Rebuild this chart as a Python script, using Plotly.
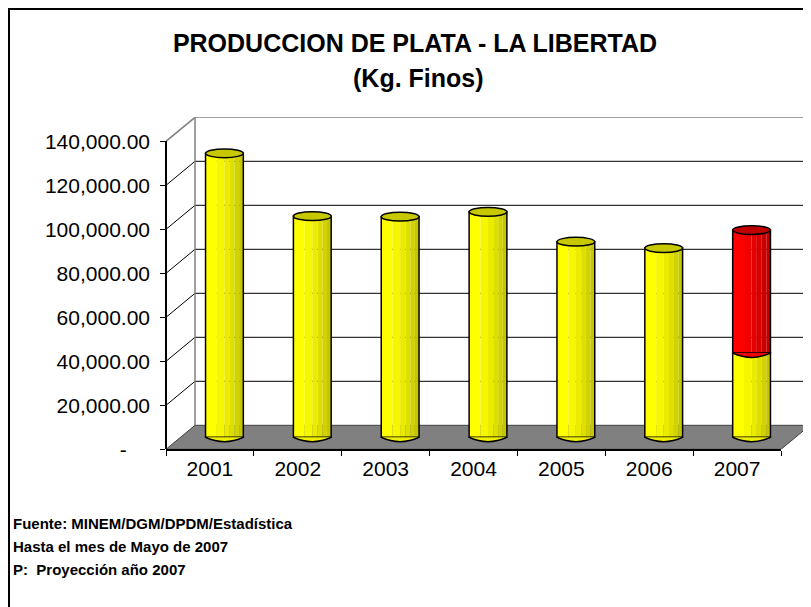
import plotly.graph_objects as go

# ---------------- data ----------------
YEARS = ["2001", "2002", "2003", "2004", "2005", "2006", "2007"]
PRODUCTION = [129100, 100500, 100300, 102500, 88900, 86000, 38300]   # yellow (real, 2007 until May)
PROJ_YEARS = ["2007"]
PROJECTION = [55900]                                                  # red (projection 2007)
Y_TICKS = [0, 20000, 40000, 60000, 80000, 100000, 120000, 140000]
Y_TICK_LABELS = ["-\u00a0\u00a0\u00a0\u00a0", "20,000.00", "40,000.00", "60,000.00",
                 "80,000.00", "100,000.00", "120,000.00", "140,000.00"]
TITLE = "PRODUCCION DE PLATA - LA LIBERTAD"
SUBTITLE = "(Kg. Finos)"
NOTES = ["Fuente: MINEM/DGM/DPDM/Estadística",
         "Hasta el mes de Mayo de 2007",
         "P:  Proyección año 2007"]

# ---------------- geometry (pixels) ----------------
W_PX, H_PX = 811, 607
PAGE_OFF = 8                          # page body margin
FRONT_L, FRONT_R = 166, 781          # front x-axis ends
FRONT_0, FRONT_TOP = 449.3, 141.3    # front y of 0 and of 140000
DEPTH_X, DEPTH_Y = 29, 24            # 3D depth offset
YMAX = Y_TICKS[-1]

ncat = len(YEARS)
cat_px = (FRONT_R - FRONT_L) / ncat
DXc = (DEPTH_X / 2) / cat_px                          # half-depth in category units
DYv = (DEPTH_Y / 2) / ((FRONT_0 - FRONT_TOP) / YMAX)  # half-depth in value units


def fx(p):
    return (p - PAGE_OFF) / W_PX


def fy(p):
    return 1 - (p - PAGE_OFF) / H_PX


BAR_W = 0.43
EH = 2000  # half height of the cylinder ellipses (value units)

YELLOWS = ["#FFFF00", "#F6F600", "#EBEB00", "#DEDE00", "#D2D200", "#C6C600"]
REDS = ["#FF0000", "#F20000", "#E40000", "#D60000", "#CA0000", "#BE0000"]
BANDS = [0.0, 0.3, 0.5, 0.64, 0.77, 0.89, 1.0]

fig = go.Figure()


def add_cylinder(xs, ys, bases, palette):
    for k, col in enumerate(palette):
        b0, b1 = BANDS[k], BANDS[k + 1]
        fig.add_trace(go.Bar(
            x=xs, y=ys, base=bases, width=BAR_W * (b1 - b0),
            offset=-BAR_W / 2 + BAR_W * b0,
            marker=dict(color=col, line=dict(width=0)),
            showlegend=False, hoverinfo="skip", xaxis="x", yaxis="y"))
    fig.add_trace(go.Bar(
        x=xs, y=ys, base=bases, width=BAR_W, offset=-BAR_W / 2,
        marker=dict(color="rgba(0,0,0,0)", line=dict(color="black", width=1.5)),
        showlegend=False, hoverinfo="skip", xaxis="x", yaxis="y"))


add_cylinder(YEARS, PRODUCTION, [0] * ncat, YELLOWS)
proj_base = [PRODUCTION[YEARS.index(y)] for y in PROJ_YEARS]
add_cylinder(PROJ_YEARS, PROJECTION, proj_base, REDS)

# invisible trace to carry the front axes
fig.add_trace(go.Scatter(x=YEARS, y=[None] * ncat, xaxis="x2", yaxis="y2",
                         mode="markers", showlegend=False, hoverinfo="skip"))

shapes = []
xl_f, xl_b = -0.5 - DXc, -0.5 + DXc
xr_f, xr_b = ncat - 0.5 - DXc, ncat - 0.5 + DXc

# floor
shapes.append(dict(type="path", xref="x", yref="y", layer="below",
                   path=f"M {xl_f},{-DYv} L {xr_f},{-DYv} L {xr_b},{DYv} L {xl_b},{DYv} Z",
                   fillcolor="#808080", line=dict(color="#404040", width=1)))
# back wall gridlines and side-wall diagonals
for v in Y_TICKS[1:-1]:
    shapes.append(dict(type="line", xref="x", yref="y", layer="below",
                       x0=xl_b, x1=xr_b, y0=v + DYv, y1=v + DYv,
                       line=dict(color="black", width=1)))
    shapes.append(dict(type="line", xref="x", yref="y", layer="below",
                       x0=xl_f, x1=xl_b, y0=v - DYv, y1=v + DYv,
                       line=dict(color="black", width=1)))
# back wall outline (gray)
for (x0, y0, x1, y1) in [(xl_b, DYv, xl_b, YMAX + DYv),
                         (xl_b, YMAX + DYv, xr_b, YMAX + DYv),
                         (xr_b, DYv, xr_b, YMAX + DYv),
                         (xl_f, YMAX - DYv, xl_b, YMAX + DYv)]:
    shapes.append(dict(type="line", xref="x", yref="y", layer="below",
                       x0=x0, x1=x1, y0=y0, y1=y1,
                       line=dict(color="#808080", width=1.5)))

# cylinder bottoms, tops and the red/yellow joint
totals = []
for i, y in enumerate(YEARS):
    t = PRODUCTION[i]
    if y in PROJ_YEARS:
        t += PROJECTION[PROJ_YEARS.index(y)]
    totals.append(t)
for i, y in enumerate(YEARS):
    x0, x1 = i - BAR_W / 2, i + BAR_W / 2
    shapes.append(dict(type="path", xref="x", yref="y", layer="above",
                       path=f"M {x0},0 Q {i},{-2 * EH} {x1},0",
                       fillcolor="#F0F000", line=dict(color="black", width=1.5)))
    if y in PROJ_YEARS:
        b = PRODUCTION[i]
        shapes.append(dict(type="path", xref="x", yref="y", layer="above",
                           path=f"M {x0},{b} Q {i},{b - 2 * EH} {x1},{b}",
                           fillcolor="#F00000", line=dict(color="black", width=1.5)))
        top_col = "#C00000"
    else:
        top_col = "#C8C800"
    shapes.append(dict(type="circle", xref="x", yref="y", layer="above",
                       x0=x0, x1=x1, y0=totals[i] - EH, y1=totals[i] + EH,
                       fillcolor=top_col, line=dict(color="black", width=1.5)))

# chart border
shapes.append(dict(type="rect", xref="paper", yref="paper",
                   x0=fx(9), y0=fy(9), x1=fx(830), y1=fy(630),
                   line=dict(color="black", width=2), fillcolor="rgba(0,0,0,0)"))

FONT = "Liberation Sans, Arial, sans-serif"

annotations = [dict(text=f"<b>{SUBTITLE}</b>", x=fx(418), y=fy(78), xref="paper", yref="paper",
                    showarrow=False, xanchor="center", yanchor="middle",
                    font=dict(family=FONT, size=25, color="black"))]
for k, (note, ypx) in enumerate(zip(NOTES, [523, 546, 569])):
    annotations.append(dict(text=f"<b>{note}</b>", x=fx(11), y=fy(ypx), xref="paper", yref="paper",
                            showarrow=False, xanchor="left", yanchor="middle",
                            font=dict(family=FONT, size=15, color="black")))

fig.update_layout(
    width=W_PX, height=H_PX, autosize=False,
    margin=dict(l=0, r=0, t=0, b=0, pad=0, autoexpand=False),
    paper_bgcolor="white", plot_bgcolor="rgba(0,0,0,0)",
    barmode="overlay",
    title=dict(text=f"<b>{TITLE}</b>", x=fx(415), y=fy(43), xanchor="center", yanchor="middle",
               xref="paper", yref="paper", automargin=False,
               font=dict(family=FONT, size=25, color="black")),
    xaxis=dict(type="category", categoryorder="array", categoryarray=YEARS,
               range=[xl_f, xr_b], domain=[fx(FRONT_L), fx(FRONT_R + DEPTH_X)],
               visible=False, fixedrange=True, automargin=False),
    yaxis=dict(range=[-DYv, YMAX + DYv], domain=[fy(FRONT_0), fy(FRONT_TOP - DEPTH_Y)],
               visible=False, fixedrange=True, automargin=False),
    xaxis2=dict(type="category", categoryorder="array", categoryarray=YEARS,
                range=[-0.5, ncat - 0.5], domain=[fx(FRONT_L), fx(FRONT_R)],
                anchor="y2", showline=True, linecolor="black", linewidth=1.5,
                ticks="outside", ticklen=5, tickcolor="black", tickson="boundaries",
                showgrid=False, tickfont=dict(family=FONT, size=21, color="black"),
                fixedrange=True, automargin=False),
    yaxis2=dict(range=[0, YMAX], domain=[fy(FRONT_0), fy(FRONT_TOP)],
                anchor="free", position=fx(FRONT_L),
                showline=True, linecolor="black", linewidth=1.5,
                tickmode="array", tickvals=Y_TICKS, ticktext=Y_TICK_LABELS,
                ticks="outside", ticklen=5, tickcolor="black", ticklabelstandoff=6,
                showgrid=False, zeroline=False, automargin=False,
                tickfont=dict(family=FONT, size=21, color="black"), fixedrange=True),
    shapes=shapes,
    annotations=annotations,
)

fig.write_html("out.html")
